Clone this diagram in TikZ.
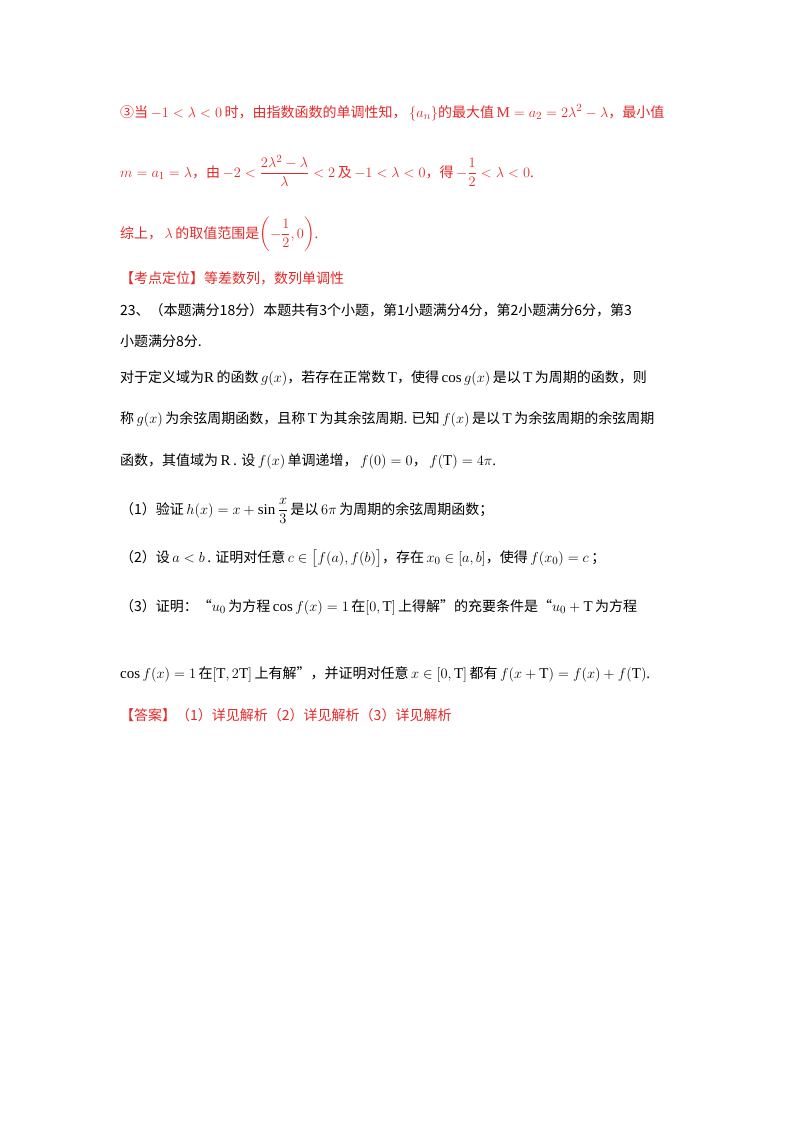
\documentclass[tikz,border=0pt]{standalone}
\usepackage{amsmath}
\usepackage{fontspec}
\newfontfamily\cjk{Noto Sans CJK SC}
\setmainfont{Liberation Serif}
\definecolor{rd}{RGB}{230,40,40}
\tikzset{ln/.style={anchor=base west,inner sep=0pt,font=\fontsize{15}{18}\selectfont}}
\newcommand{\zh}[1]{{\cjk\fontsize{14}{17}\selectfont #1}}
\begin{document}
\begin{tikzpicture}[x=1pt,y=1pt]
\useasboundingbox[fill=white] (0,0) rectangle (800,-1132);
\node[ln,text=rd] (l1) at (120,-117) {\zh{③当}\,$-1<\lambda<0$\,\zh{时，由指数函数的单调性知，}\,$\{a_n\}$\zh{的最大值}\,$\mathrm{M}=a_2=2\lambda^2-\lambda$\zh{，最小值}};
\node[ln,text=rd] (l2) at (120,-177) {$m=a_1=\lambda$\zh{，由}\,$-2<\dfrac{2\lambda^2-\lambda}{\lambda}<2$\,\zh{及}\,$-1<\lambda<0$\zh{，得}\,$-\dfrac12<\lambda<0$.};
\node[ln,text=rd] (l3) at (120,-238) {\zh{综上，}\,$\lambda$\,\zh{的取值范围是}$\left(-\dfrac12,0\right)$.};
\node[ln,text=rd] (l4) at (120,-283) {\zh{【考点定位】等差数列，数列单调性}};
\node[ln] (l5) at (120,-315) {\zh{23、（本题满分18分）本题共有3个小题，第1小题满分4分，第2小题满分6分，第3}};
\node[ln] (l6) at (120,-346) {\zh{小题满分8分.}};
\node[ln] (l7) at (120,-382) {\zh{对于定义域为}$\mathrm{R}$\,\zh{的函数}\,$g(x)$\zh{，若存在正常数}\,$\mathrm{T}$\zh{，使得}\,$\cos g(x)$\,\zh{是以}\,$\mathrm{T}$\,\zh{为周期的函数，则}};
\node[ln] (l8) at (120,-423) {\zh{称}\,$g(x)$\,\zh{为余弦周期函数，且称}\,$\mathrm{T}$\,\zh{为其余弦周期. 已知}\,$f(x)$\,\zh{是以}\,$\mathrm{T}$\,\zh{为余弦周期的余弦周期}};
\node[ln] (l9) at (120,-465) {\zh{函数，其值域为}\,$\mathrm{R}$\,\zh{. 设}\,$f(x)$\,\zh{单调递增，}\,$f(0)=0$\zh{，}\,$f(\mathrm{T})=4\pi$.};
\node[ln] (l10) at (120,-514) {\zh{（1）验证}\,$h(x)=x+\sin\dfrac{x}{3}$\,\zh{是以}\,$6\pi$\,\zh{为周期的余弦周期函数；}};
\node[ln] (l11) at (120,-562) {\zh{（2）设}\,$a<b$\,\zh{. 证明对任意}\,$c\in\bigl[f(a),f(b)\bigr]$\zh{，存在}\,$x_0\in[a,b]$\zh{，使得}\,$f(x_0)=c$\,\zh{；}};
\node[ln] (l12) at (120,-611) {\zh{（3）证明：“}$u_0$\,\zh{为方程}\,$\cos f(x)=1$\,\zh{在}$[0,\mathrm{T}]$\,\zh{上得解”的充要条件是“}$u_0+\mathrm{T}$\,\zh{为方程}};
\node[ln] (l13) at (120,-678) {$\cos f(x)=1$\,\zh{在}$[\mathrm{T},2\mathrm{T}]$\,\zh{上有解”，并证明对任意}\,$x\in[0,\mathrm{T}]$\,\zh{都有}\,$f(x+\mathrm{T})=f(x)+f(\mathrm{T})$.};
\node[ln,text=rd] (l14) at (120,-720) {\zh{【答案】（1）详见解析（2）详见解析（3）详见解析}};
\end{tikzpicture}
\end{document}
